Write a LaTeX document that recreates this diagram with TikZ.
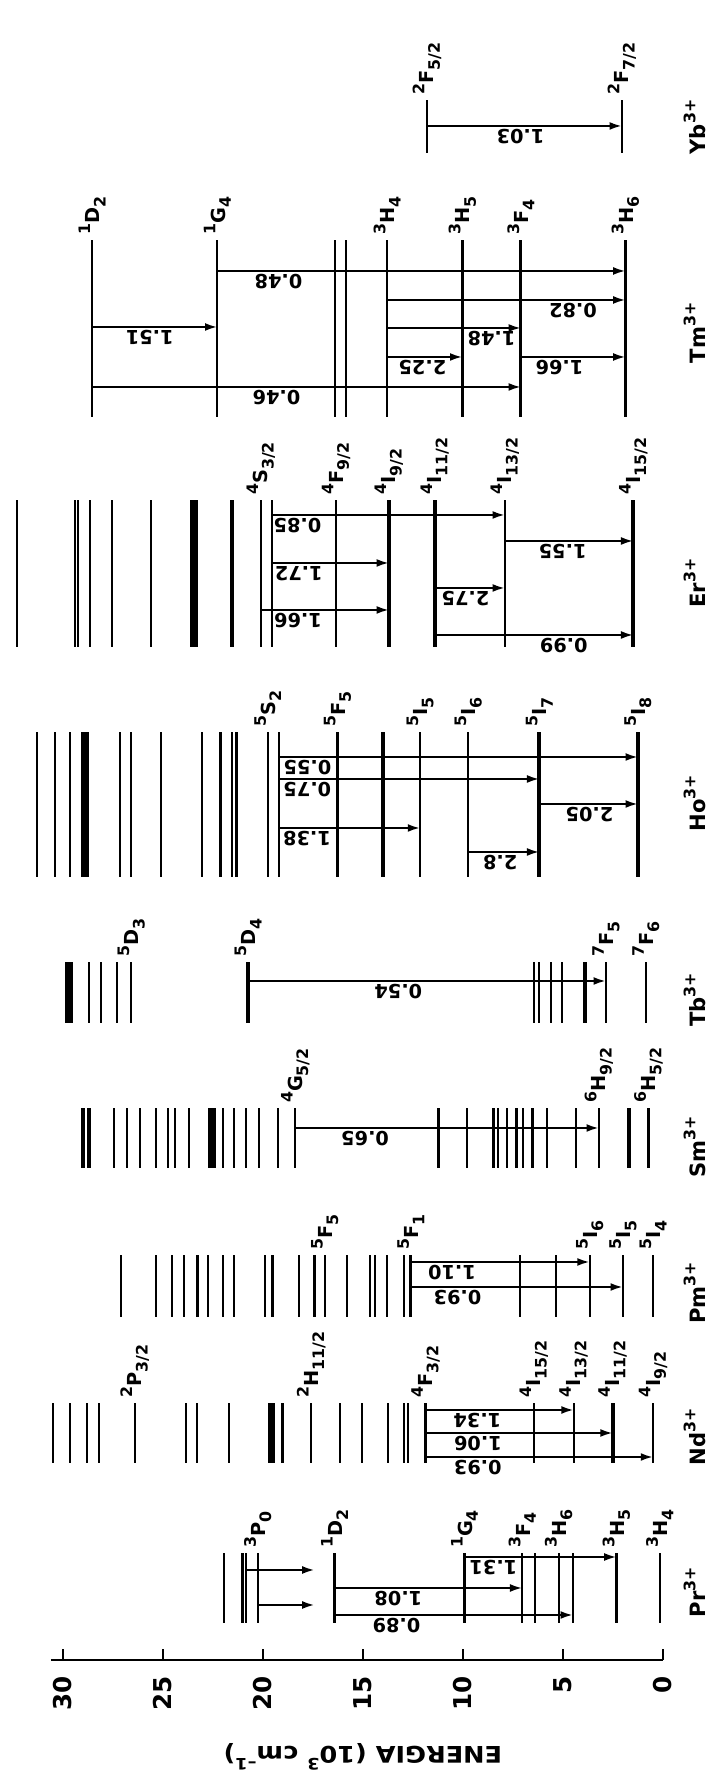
\documentclass[tikz,border=0pt]{standalone}
\usepackage{fontspec}
\setmainfont{DejaVu Sans}
\usetikzlibrary{arrows.meta}

\newcommand{\lsup}[1]{\raisebox{.5em}{\fontsize{9}{9}\selectfont #1}}
\newcommand{\lsub}[1]{\raisebox{-.3em}{\fontsize{9}{9}\selectfont #1}}
\newcommand{\term}[3]{\lsup{#1}#2\lsub{#3}}

\begin{document}
\begin{tikzpicture}[
  x=0.02cm, y=0.4cm, rotate=90, transform shape,
  font=\fontsize{11}{13}\selectfont\bfseries,
  lv/.style={line width=1.2pt},
  lvm/.style={line width=1.7pt},
  lvb/.style={line width=2.3pt},
  tr/.style={line width=1.2pt, -{Latex[length=7pt,width=4.5pt]}},
  tl/.style={rotate=90, anchor=south, inner sep=1.5pt},
  nm/.style={anchor=west, inner sep=1pt},
  ion/.style={inner sep=0pt, font=\fontsize{12}{14}\selectfont\bfseries}
]
\useasboundingbox (0,-2.65) rectangle (1780,33.15);

% energy axis
\draw[lv] (120,30.6) -- (120,0);
\foreach \e in {0,5,...,30} {
  \draw[lv] (120,\e) -- (131,\e);
  \node[anchor=east, inner sep=0pt, font=\fontsize{14}{16}\selectfont\bfseries] (t\e) at (104,\e) {\e};
}
\node[rotate=90, xscale=1.12, font=\fontsize{13}{15}\selectfont\bfseries] (elab) at (23,15) {ENERGIA (10\lsup{3} cm\lsup{--1})};

% Pr3+
\foreach \e in {21.96,21.02,20.86,20.26,16.42,9.92,7.03,6.41,5.21,4.50,2.32,0.15}
  \draw[lv] (157,\e) -- (227,\e);
\node[nm] (prP0) at (230,20.26) {\term{3}{P}{0}};
\node[nm] (prD2) at (230,16.42) {\term{1}{D}{2}};
\node[nm] (prG4) at (230,9.92) {\term{1}{G}{4}};
\node[nm] (prF4) at (230,7.03) {\term{3}{F}{4}};
\node[nm] (prH6) at (230,5.21) {\term{3}{H}{6}};
\node[nm] (prH5) at (230,2.32) {\term{3}{H}{5}};
\node[nm] (prH4) at (230,0.15) {\term{3}{H}{4}};
\draw[tr] (210,20.86) -- (210,17.42);
\draw[tr] (175,20.26) -- (175,17.42);
\draw[tr] (223,9.92) -- node[tl,pos=.19] (pr131) {1.31} (223,2.32);
\draw[tr] (192,16.42) -- node[tl,pos=.34] (pr108) {1.08} (192,7.03);
\draw[tr] (165,16.42) -- node[tl,pos=.26] (pr089) {0.89} (165,4.50);
\node[ion] (pr) at (188,-1.6) {Pr\lsup{3+}};

% Nd3+
\foreach \e in {30.49,29.64,28.82,28.20,26.41,23.84,23.31,21.71,19.02,17.58,16.16,15.05,13.75,12.96,12.76,11.87,6.45,4.46,0.49}
  \draw[lv] (317,\e) -- (377,\e);
\foreach \e in {19.66,19.48,2.51}
  \draw[lvb] (317,\e) -- (377,\e);
\node[nm] (ndP) at (380,26.41) {\term{2}{P}{3/2}};
\node[nm] (ndH) at (380,17.58) {\term{2}{H}{11/2}};
\node[nm] (ndF) at (380,11.87) {\term{4}{F}{3/2}};
\node[nm] (ndI15) at (380,6.45) {\term{4}{I}{15/2}};
\node[nm] (ndI13) at (380,4.46) {\term{4}{I}{13/2}};
\node[nm] (ndI11) at (380,2.51) {\term{4}{I}{11/2}};
\node[nm] (ndI9) at (380,0.49) {\term{4}{I}{9/2}};
\draw[tr] (370,11.87) -- node[tl,pos=.35] (nd134) {1.34} (370,4.46);
\draw[tr] (347,11.87) -- node[tl,pos=.28] (nd106) {1.06} (347,2.51);
\draw[tr] (323,11.87) -- node[tl,pos=.23] (nd093) {0.93} (323,0.49);
\node[ion] (nd) at (343,-1.6) {Nd\lsup{3+}};

% Pm3+
\foreach \e in {27.1,25.33,24.53,23.95,23.27,22.74,22.0,21.43,19.89,18.18,17.42,16.91,15.81,14.66,14.39,13.79,12.94,7.16,5.33,3.66,2.0,0.49}
  \draw[lv] (463,\e) -- (525,\e);
\foreach \e in {19.53,12.6}
  \draw[lvm] (463,\e) -- (525,\e);
\node[nm] (pmF5) at (528,16.91) {\term{5}{F}{5}};
\node[nm] (pmF1) at (528,12.6) {\term{5}{F}{1}};
\node[nm] (pmI6) at (528,3.66) {\term{5}{I}{6}};
\node[nm] (pmI5) at (528,2.0) {\term{5}{I}{5}};
\node[nm] (pmI4) at (528,0.49) {\term{5}{I}{4}};
\draw[tr] (518,12.6) -- node[tl,pos=.23] (pm110) {1.10} (518,3.66);
\draw[tr] (493,12.6) -- node[tl,pos=.22] (pm093) {0.93} (493,2.0);
\node[ion] (pm) at (487,-1.6) {Pm\lsup{3+}};

% Sm3+
\foreach \e in {27.44,26.82,26.13,25.33,24.76,24.41,23.72,22.0,21.43,20.86,20.21,19.25,18.38,11.22,9.80,8.47,8.24,7.78,7.32,6.98,6.52,5.79,4.34,3.20,0.72}
  \draw[lv] (612,\e) -- (672,\e);
\foreach \e in {29.0,28.72,22.65,22.46,1.71}
  \draw[lvb] (612,\e) -- (672,\e);
\node[nm] (smG) at (675,18.38) {\term{4}{G}{5/2}};
\node[nm] (smH9) at (675,3.20) {\term{6}{H}{9/2}};
\node[nm] (smH5) at (675,0.72) {\term{6}{H}{5/2}};
\draw[tr] (652,18.38) -- node[tl,pos=.23] (sm065) {0.65} (652,3.20);
\node[ion] (sm) at (633,-1.6) {Sm\lsup{3+}};

% Tb3+
\foreach \e in {28.70,28.08,27.32,26.59,6.45,6.18,5.60,5.03,2.85,0.85}
  \draw[lv] (757,\e) -- (818,\e);
\foreach \e in {29.80,29.62,20.74,3.90}
  \draw[lvb] (757,\e) -- (818,\e);
\node[nm] (tbD3) at (821,26.59) {\term{5}{D}{3}};
\node[nm] (tbD4) at (821,20.74) {\term{5}{D}{4}};
\node[nm] (tbF5) at (821,2.85) {\term{7}{F}{5}};
\node[nm] (tbF6) at (821,0.85) {\term{7}{F}{6}};
\draw[tr] (799,20.74) -- node[tl,pos=.42] (tb054) {0.54} (799,2.85);
\node[ion] (tb) at (780,-1.6) {Tb\lsup{3+}};

% Ho3+
\foreach \e in {31.29,30.38,29.64,27.16,26.59,25.1,23.04,22.12,21.54,21.32,19.76,19.21,16.27,12.14,9.73}
  \draw[lv] (903,\e) -- (1048,\e);
\foreach \e in {29.0,28.82,13.98,6.18,1.25}
  \draw[lvb] (903,\e) -- (1048,\e);
\node[nm] (hoS2) at (1051,19.76) {\term{5}{S}{2}};
\node[nm] (hoF5) at (1051,16.27) {\term{5}{F}{5}};
\node[nm] (hoI5) at (1051,12.14) {\term{5}{I}{5}};
\node[nm] (hoI6) at (1051,9.73) {\term{5}{I}{6}};
\node[nm] (hoI7) at (1051,6.18) {\term{5}{I}{7}};
\node[nm] (hoI8) at (1051,1.25) {\term{5}{I}{8}};
\draw[tr] (1023,19.21) -- node[tl,pos=.08] (ho055) {0.55} (1023,1.25);
\draw[tr] (1001,19.21) -- node[tl,pos=.11] (ho075) {0.75} (1001,6.18);
\draw[tr] (952,19.21) -- node[tl,pos=.2] (ho138) {1.38} (952,12.14);
\draw[tr] (976,6.18) -- node[tl,pos=.51] (ho205) {2.05} (976,1.25);
\draw[tr] (928,9.73) -- node[tl,pos=.45] (ho28) {2.8} (928,6.18);
\node[ion] (ho) at (977,-1.6) {Ho\lsup{3+}};

% Er3+
\foreach \e in {32.32,29.39,29.23,28.66,27.55,25.60,20.1,19.55,16.34,7.90}
  \draw[lv] (1133,\e) -- (1280,\e);
\foreach \e in {23.56,23.33,21.54,13.70,11.41,1.48}
  \draw[lvb] (1133,\e) -- (1280,\e);
\node[nm] (erS) at (1283,20.1) {\term{4}{S}{3/2}};
\node[nm] (erF) at (1283,16.34) {\term{4}{F}{9/2}};
\node[nm] (erI9) at (1283,13.70) {\term{4}{I}{9/2}};
\node[nm] (erI11) at (1283,11.41) {\term{4}{I}{11/2}};
\node[nm] (erI13) at (1283,7.90) {\term{4}{I}{13/2}};
\node[nm] (erI15) at (1283,1.48) {\term{4}{I}{15/2}};
\draw[tr] (1265,19.55) -- node[tl,pos=.11] (er085) {0.85} (1265,7.90);
\draw[tr] (1217,19.55) -- node[tl,pos=.23] (er172) {1.72} (1217,13.70);
\draw[tr] (1170,20.1) -- node[tl,pos=.29] (er166) {1.66} (1170,13.70);
\draw[tr] (1239,7.90) -- node[tl,pos=.45] (er155) {1.55} (1239,1.48);
\draw[tr] (1192,11.41) -- node[tl,pos=.44] (er275) {2.75} (1192,7.90);
\draw[tr] (1145,11.41) -- node[tl,pos=.65] (er099) {0.99} (1145,1.48);
\node[ion] (er) at (1197,-1.6) {Er\lsup{3+}};

% Tm3+
\foreach \e in {28.54,22.28,16.38,15.86,13.79,1.87}
  \draw[lv] (1363,\e) -- (1540,\e);
\foreach \e in {10.03,7.1}
  \draw[lvm] (1363,\e) -- (1540,\e);
\node[nm] (tmD2) at (1543,28.54) {\term{1}{D}{2}};
\node[nm] (tmG4) at (1543,22.28) {\term{1}{G}{4}};
\node[nm] (tmH4) at (1543,13.79) {\term{3}{H}{4}};
\node[nm] (tmH5) at (1543,10.03) {\term{3}{H}{5}};
\node[nm] (tmF4) at (1543,7.1) {\term{3}{F}{4}};
\node[nm] (tmH6) at (1543,1.87) {\term{3}{H}{6}};
\draw[tr] (1509,22.28) -- node[tl,pos=.15] (tm048) {0.48} (1509,1.87);
\draw[tr] (1480,13.79) -- node[tl,pos=.78] (tm082) {0.82} (1480,1.87);
\draw[tr] (1453,28.54) -- node[tl,pos=.46] (tm151) {1.51} (1453,22.28);
\draw[tr] (1452,13.79) -- node[tl,pos=.78] (tm148) {1.48} (1452,7.1);
\draw[tr] (1423,13.79) -- node[tl,pos=.47] (tm225) {2.25} (1423,10.03);
\draw[tr] (1423,7.1) -- node[tl,pos=.37] (tm166) {1.66} (1423,1.87);
\draw[tr] (1393,28.54) -- node[tl,pos=.43] (tm046) {0.46} (1393,7.1);
\node[ion] (tm) at (1447,-1.6) {Tm\lsup{3+}};

% Yb3+
\foreach \e in {11.80,2.05}
  \draw[lv] (1627,\e) -- (1680,\e);
\node[nm] (ybF5) at (1683,11.80) {\term{2}{F}{5/2}};
\node[nm] (ybF7) at (1683,2.05) {\term{2}{F}{7/2}};
\draw[tr] (1654,11.80) -- node[tl,pos=.48] (yb103) {1.03} (1654,2.05);
\node[ion] (yb) at (1653,-1.6) {Yb\lsup{3+}};
\end{tikzpicture}
\end{document}
